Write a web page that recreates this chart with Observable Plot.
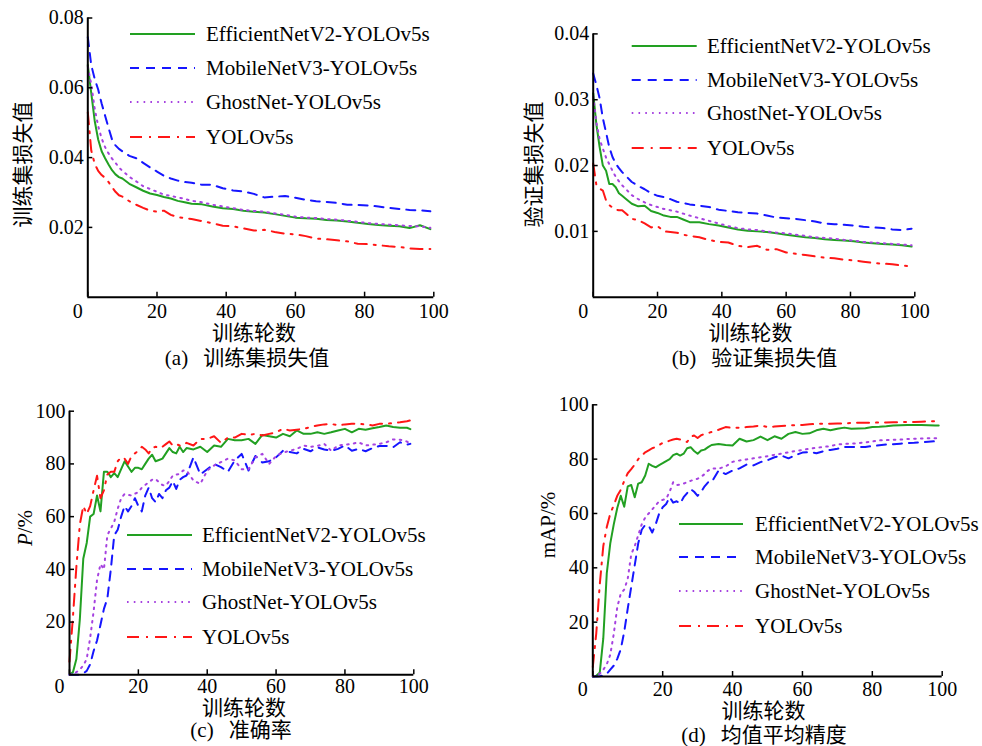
<!DOCTYPE html>
<html><head><meta charset="utf-8">
<script src="https://cdn.jsdelivr.net/npm/d3@7"></script>
<script src="https://cdn.jsdelivr.net/npm/@observablehq/plot@0.6"></script>
<style>
html,body{margin:0;padding:0;background:#fff;}
#chart{position:relative;width:982px;height:746px;overflow:hidden;background:#fff;}
#chart svg{position:absolute;overflow:visible;}
</style></head><body><div id="chart"></div>
<script>
// ---------------- data ----------------
const seriesNames = ["EfficientNetV2-YOLOv5s", "MobileNetV3-YOLOv5s", "GhostNet-YOLOv5s", "YOLOv5s"];
const xTickValues = [0, 20, 40, 60, 80, 100];
const yTicksTrain = [0.02, 0.04, 0.06, 0.08];
const yTicksVal = [0.01, 0.02, 0.03, 0.04];
const yTicksPct = [20, 40, 60, 80, 100];
const xAxisTitle = "训练轮数";
const panelTags = ["(a)", "(b)", "(c)", "(d)"];
const panelCaptions = ["训练集损失值", "验证集损失值", "准确率", "均值平均精度"];

const epochsLoss = [0,1,2,3,4,5,6,7,8,9,10,12,14,16,18,20,22,24,26,28,30,33,36,39,42,45,48,51,54,57,60,63,66,69,72,75,78,81,84,87,90,93,96,99];

const trainEff = [0.0665,0.0585,0.0505,0.0452,0.0418,0.0398,0.0380,0.0364,0.0352,0.0344,0.0340,
  0.0325,0.0315,0.0305,0.0297,0.0293,0.0287,0.0283,0.0276,0.0272,0.0268,
  0.0266,0.0260,0.0255,0.0253,0.0248,0.0245,0.0243,0.0238,0.0233,0.0228,0.0226,0.0225,0.0221,0.0220,0.0217,0.0213,0.0210,0.0207,0.0205,0.0203,0.0198,0.0206,0.0195];
const trainMob = [0.0745,0.0665,0.0625,0.0595,0.0555,0.0520,0.0485,0.0452,0.0435,0.0425,0.0418,
  0.0405,0.0398,0.0385,0.0372,0.0360,0.0348,0.0340,0.0334,0.0330,0.0328,
  0.0322,0.0322,0.0312,0.0306,0.0303,0.0296,0.0286,0.0288,0.0290,0.0285,0.0279,0.0275,0.0273,0.0270,0.0265,0.0264,0.0263,0.0260,0.0256,0.0253,0.0250,0.0249,0.0246];
const trainGhost = [0.0660,0.0610,0.0540,0.0490,0.0455,0.0430,0.0412,0.0397,0.0385,0.0372,0.0362,
  0.0345,0.0332,0.0318,0.0310,0.0302,0.0294,0.0290,0.0286,0.0282,0.0276,
  0.0272,0.0265,0.0260,0.0255,0.0250,0.0247,0.0245,0.0240,0.0236,0.0231,0.0228,0.0227,0.0224,0.0222,0.0219,0.0216,0.0212,0.0210,0.0208,0.0206,0.0204,0.0203,0.0199];
const trainYolo = [0.0530,0.0420,0.0382,0.0362,0.0350,0.0342,0.0330,0.0315,0.0302,0.0292,0.0288,
  0.0275,0.0265,0.0256,0.0248,0.0245,0.0248,0.0236,0.0229,0.0227,0.0224,
  0.0218,0.0212,0.0205,0.0203,0.0197,0.0191,0.0193,0.0187,0.0182,0.0180,0.0175,0.0168,0.0166,0.0163,0.0160,0.0153,0.0152,0.0149,0.0146,0.0144,0.0140,0.0138,0.0138];

const valEff = [0.0310,0.0262,0.0228,0.0200,0.0192,0.0172,0.0172,0.0167,0.0158,0.0154,0.0150,
  0.0142,0.0138,0.0139,0.0131,0.0128,0.0124,0.0122,0.0122,0.0118,0.0114,
  0.0114,0.0111,0.0109,0.0106,0.0103,0.0101,0.0100,0.0099,0.0097,0.0095,0.0093,0.0091,0.0090,0.0088,0.0087,0.0086,0.0085,0.0083,0.0082,0.0081,0.0080,0.0079,0.0077];
const valMob = [0.0340,0.0322,0.0302,0.0272,0.0250,0.0228,0.0213,0.0203,0.0196,0.0190,0.0185,
  0.0175,0.0169,0.0164,0.0158,0.0154,0.0152,0.0149,0.0145,0.0143,0.0141,
  0.0139,0.0137,0.0133,0.0131,0.0129,0.0128,0.0127,0.0124,0.0121,0.0120,0.0119,0.0117,0.0115,0.0112,0.0111,0.0110,0.0109,0.0107,0.0106,0.0105,0.0103,0.0102,0.0104];
const valGhost = [0.0305,0.0265,0.0240,0.0226,0.0212,0.0202,0.0192,0.0183,0.0176,0.0170,0.0165,
  0.0155,0.0149,0.0144,0.0140,0.0137,0.0134,0.0132,0.0130,0.0127,0.0124,
  0.0120,0.0116,0.0112,0.0108,0.0105,0.0103,0.0102,0.0100,0.0098,0.0097,0.0095,0.0093,0.0091,0.0090,0.0089,0.0087,0.0086,0.0084,0.0083,0.0082,0.0081,0.0080,0.0079];
const valYolo = [0.0203,0.0170,0.0165,0.0162,0.0147,0.0140,0.0136,0.0133,0.0132,0.0132,0.0128,
  0.0119,0.0117,0.0112,0.0106,0.0108,0.0100,0.0099,0.0098,0.0095,0.0093,
  0.0091,0.0087,0.0084,0.0083,0.0078,0.0076,0.0078,0.0072,0.0073,0.0068,0.0066,0.0064,0.0062,0.0060,0.0059,0.0057,0.0056,0.0054,0.0052,0.0051,0.0050,0.0048,0.0047];

const epochsMetric = [0,1,2,3,4,5,6,7,8,9,10,11,12,13,14,15,16,17,18,19,20,21,22,23,24,25,26,27,28,29,30,31,32,33,34,
  36,38,40,42,44,46,48,50,52,54,56,58,60,62,64,66,68,70,72,74,76,78,80,82,84,86,88,90,92,94,96,98,99];

const precEff = [0,1,6,21,44,50,60,61,68,62,77,77,75,76.5,75,78,81,79,77,78.5,78.5,78,80,82,83.5,81,81.5,82,84,86,84.5,84,86.5,84.5,86,
  85.5,86.5,84.5,87,86.5,89.5,89,89,89.5,87.6,91,90.5,90,91.4,90.5,92.7,91.4,91.4,92,91.4,92,92.7,93.3,92,93.3,93,93.5,94,94.6,94,93.7,93.7,93.2];
const precMob = [0,0,0,0,0.5,1.5,4,9,13,19,25,29,40,53,55,60,64,62,64,67,64,62,68,71,67,65.5,68.6,67,70,71,73.5,70.5,74,75,75.6,
  82.5,76,78,80,78.8,77,81.3,83.8,77.5,83,80.5,81,82.5,85,84.5,84,85.7,84.8,86.3,85.5,85,85.7,87,85,85.7,84.8,86,86.8,86.8,86.3,88.2,87.3,87.6];
const precGhost = [0,0.5,1,2,3.5,6,14,24,36,42,40,53,55.5,58,63,67,68.6,68.3,68,68.7,69.3,71,72,73,74,74.3,73,72,71.8,73.5,75.6,76,76.2,77.5,77.5,
  73.7,72.4,77.5,79.4,80.7,82,81.3,78,78,82.5,83.8,80,83,84.3,85,85.7,87,86.5,86.8,87.6,85,87,87.3,87.6,88.2,87,87.3,87.6,88.2,89.3,89.2,88.5,87.6];
const precYolo = [5,22,41,57,64,61,64,70,75.5,67,70,76,77,77,81,82.5,82,80,83,84,85,86.5,85.5,84,86,86.5,86,86.5,87.5,88.5,87,87.5,87,87,88,
  87,89.5,89.5,90.5,88,90,90,91.4,91,91.4,90.8,91.4,92,93.3,92.7,93,93.3,94,94.6,95,95.2,94.6,95,95.2,95.2,95,94.6,95.2,95.2,95.5,95.8,96.2,96.5];

const mapEff = [0,0.3,1.5,14,38,49,56,62,66.5,62.5,70,70.5,66,71,71.5,74,78.3,77.5,77,77.8,78.5,79.3,80,81.5,82,81.3,82,84,84.4,83,82,83.2,83.5,84.4,85.2,
  85.6,85.2,85,87.5,86.5,87,88.3,87,88.4,87.5,89.3,90,89.3,89.5,90.6,91.2,90.6,91.2,91.6,91.2,91.3,91.4,91.8,91.9,92.1,92.4,92.5,92.6,92.6,92.6,92.5,92.4,92.4];
const mapMob = [0,0,0.1,0.4,1,2.5,4,6.5,10,16.5,25,33,41,49,54,55.8,55.5,53,56,60,62.3,63.5,66,64,64.5,63.6,66,67.5,69,68,66.5,68,70,71.5,71.5,
  75.8,74.5,75.8,76.6,78,77.7,78.9,79.6,80.7,81.3,80.3,81.5,82.4,82.6,82.2,82.9,83.4,83.8,84.5,84.5,84.4,84.5,84.8,85.1,85.4,85.5,85.7,85.9,86,86.2,86.4,86.6,86.6];
const mapGhost = [0,0.5,1,2.5,4.5,8,15.7,25.5,30.5,32,36,45,48,52,56,58.5,60,61.5,63,64.5,65,65.4,68,71.5,70.5,70.6,71,71.5,72,72.5,72.8,73.5,74.5,75.8,76.6,
  76.5,77.3,79,79.5,79.9,80.3,80.7,81.1,81.6,82,82.5,83,83.4,83.8,84.2,84.5,84.8,85.4,85.6,85.7,85.9,86.2,86.5,86.9,87,87.1,87.2,87.4,87.5,87.6,87.7,87.7,87.7];
const mapYolo = [3.5,16,34,48,55,60,63,66.5,68.7,72,74.8,76.3,78,80,81.3,82.5,83.2,84,84.5,85.2,86,86.3,86.8,87.2,87.5,87.2,86.7,86.3,88.2,88.7,87.8,88.8,89.3,89.6,90,
  90.8,91.8,91.5,91.6,91.8,92,92.4,91.8,92,92.2,92.4,92.5,92.6,92.8,93,93,93,93.1,93.2,93.3,93.4,93.4,93.4,93.5,93.5,93.6,93.6,93.7,93.7,93.8,93.9,94,94];

// ---------------- styling / layout ----------------
const FONT = "'Liberation Serif','Times New Roman','Noto Sans CJK SC',serif";
const styles = {
  color: ["#22a022", "#1616ff", "#a642e0", "#ff1616"],
  dash: [null, "9,7", "1.6,5.2", "12,7,2,7"]
};
const W = 491, H = 373;

const panels = [
  { left: 0, top: 0, epochs: epochsLoss, values: [trainEff, trainMob, trainGhost, trainYolo],
    yDomain: [0, 0.08], yTicks: yTicksTrain, yFmt: d3.format(".2f"),
    margin: {top: 17.5, right: 57.7, bottom: 76.3, left: 87.3}, xPad: 6.5,
    legend: {x1: 130, x2: 195, tx: 206, rows: [34, 68, 102, 137]},
    xtitle: [254, 332], caption: [247, 357], ytitle: [22, 164.5], yparts: [["训练集损失值", false]] },
  { left: 491, top: 0, epochs: epochsLoss, values: [valEff, valMob, valGhost, valYolo],
    yDomain: [0, 0.04], yTicks: yTicksVal, yFmt: d3.format(".2f"),
    margin: {top: 33.4, right: 67.7, bottom: 76.3, left: 101.7}, xPad: 6.5,
    legend: {x1: 140.7, x2: 205.7, tx: 216, rows: [46, 80, 113, 148]},
    xtitle: [259.5, 332], caption: [263.5, 357], ytitle: [42, 164.5], yparts: [["验证集损失值", false]] },
  { left: 0, top: 373, epochs: epochsMetric, values: [precEff, precMob, precGhost, precYolo],
    yDomain: [0, 100], yTicks: yTicksPct, yFmt: d3.format("d"),
    margin: {top: 37.7, right: 77.7, bottom: 71.7, left: 69}, xPad: 4,
    legend: {x1: 127, x2: 192, tx: 202, rows: [162, 196, 229, 264]},
    xtitle: [244, 334.5], caption: [241, 356], ytitle: [25, 155], yparts: [["P", true], ["/%", false]] },
  { left: 491, top: 373, epochs: epochsMetric, values: [mapEff, mapMob, mapGhost, mapYolo],
    yDomain: [0, 100], yTicks: yTicksPct, yFmt: d3.format("d"),
    margin: {top: 31.3, right: 40.3, bottom: 70, left: 101.3}, xPad: 5.5,
    legend: {x1: 188, x2: 252, tx: 264, rows: [151, 184, 218, 253]},
    xtitle: [272.5, 337], caption: [273, 361], ytitle: [57, 152], yparts: [["mAP/%", false]] }
];

const chart = document.getElementById("chart");

panels.forEach((p, k) => {
  const rows = seriesNames.flatMap((name, i) => p.epochs.map((e, j) => ({name, epoch: e, value: p.values[i][j]})));
  const svg = Plot.plot({
    width: W, height: H,
    marginTop: p.margin.top, marginRight: p.margin.right, marginBottom: p.margin.bottom, marginLeft: p.margin.left,
    x: {domain: [0, 100]},
    y: {domain: p.yDomain},
    style: {fontFamily: FONT, fontSize: "20px", color: "#000", background: "transparent", overflow: "visible"},
    marks: [
      ...seriesNames.map((name, i) => Plot.line(rows.filter(r => r.name === name), {
        x: "epoch", y: "value", stroke: styles.color[i], strokeWidth: 2,
        strokeDasharray: styles.dash[i], strokeLinejoin: "round"
      })),
      Plot.ruleY([p.yDomain[0]], {strokeWidth: 2}),
      Plot.ruleX([0], {strokeWidth: 2}),
      Plot.axisX({ticks: xTickValues, tickSize: -5, tickPadding: p.xPad + 5, strokeWidth: 1.5,
        tickFormat: d => d === 0 ? "" : String(d), label: null}),
      Plot.axisY({ticks: p.yTicks, tickSize: -5, tickPadding: 9, strokeWidth: 1.5,
        tickFormat: p.yFmt, label: null}),
      Plot.text([xTickValues[0]], {x: d => d, frameAnchor: "bottom", dx: -10, dy: p.xPad,
        lineAnchor: "top", text: d => String(d), fontSize: 20})
    ]
  });
  svg.style.left = p.left + "px";
  svg.style.top = p.top + "px";

  const g = d3.select(svg).append("g").attr("font-family", FONT).attr("fill", "#000");
  // legend
  seriesNames.forEach((name, i) => {
    g.append("line")
      .attr("x1", p.legend.x1).attr("x2", p.legend.x2)
      .attr("y1", p.legend.rows[i]).attr("y2", p.legend.rows[i])
      .attr("stroke", styles.color[i]).attr("stroke-width", 2)
      .attr("stroke-dasharray", styles.dash[i]);
    g.append("text").attr("x", p.legend.tx).attr("y", p.legend.rows[i])
      .attr("text-anchor", "start")
      .attr("dy", "0.33em").attr("font-size", 21).text(name);
  });
  // x title
  g.append("text").attr("x", p.xtitle[0]).attr("y", p.xtitle[1])
    .attr("dy", "0.38em").attr("text-anchor", "middle").attr("font-size", 21).text(xAxisTitle);
  // caption
  const c = g.append("text").attr("x", p.caption[0]).attr("y", p.caption[1])
    .attr("dy", "0.38em").attr("text-anchor", "middle").attr("font-size", 21);
  c.append("tspan").text(panelTags[k]);
  c.append("tspan").attr("dx", 15).text(panelCaptions[k]);
  // y title
  const yt = g.append("text")
    .attr("transform", `translate(${p.ytitle[0]},${p.ytitle[1]}) rotate(-90)`)
    .attr("text-anchor", "middle").attr("dy", k < 2 ? "0.38em" : "0.33em").attr("font-size", 21);
  p.yparts.forEach(([t, it]) => yt.append("tspan").attr("font-style", it ? "italic" : null).text(t));

  chart.appendChild(svg);
});
</script>
</body></html>
